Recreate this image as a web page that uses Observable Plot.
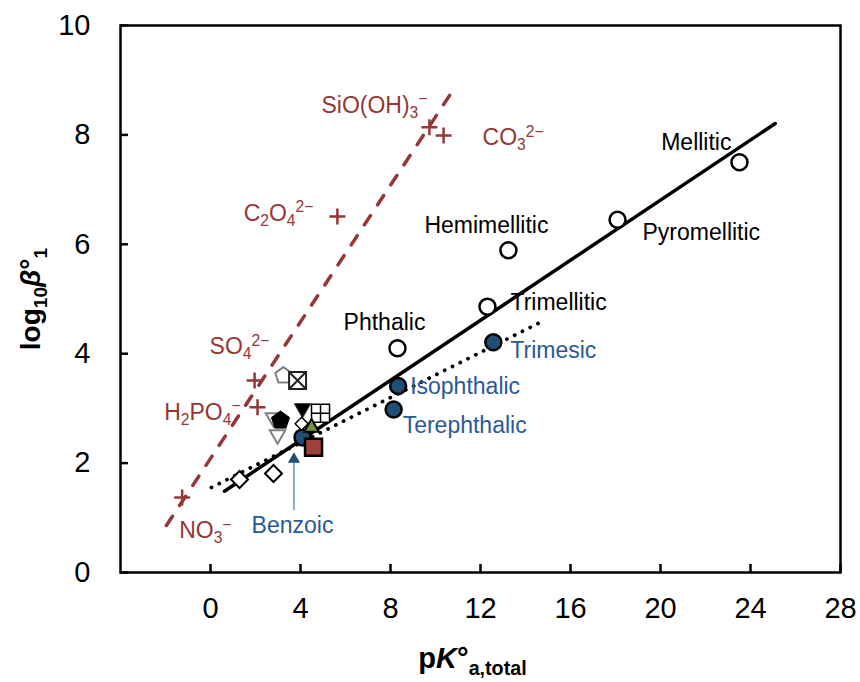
<!DOCTYPE html>
<html><head><meta charset="utf-8">
<script src="https://cdn.jsdelivr.net/npm/d3@7"></script>
<script src="https://cdn.jsdelivr.net/npm/@observablehq/plot@0.6"></script>
<style>
html,body{margin:0;padding:0;background:#fff;}
#chart{width:860px;height:682px;}
</style></head>
<body><div id="chart"></div>
<script>
// ---------- DATA ----------
// Inorganic anions (red crosses, dashed fit)
const inorgLabels = ["NO_{3}^{−}", "H_{2}PO_{4}^{−}", "SO_{4}^{2−}", "C_{2}O_{4}^{2−}", "SiO(OH)_{3}^{−}", "CO_{3}^{2−}"];
const inorgPKa   = [-1.26, 2.09, 1.96, 5.64, 9.73, 10.36];
const inorgLogB  = [1.37, 3.02, 3.51, 6.51, 8.14, 7.99];

// Aromatic polycarboxylic acids (open circles)
const polyLabels = ["Phthalic", "Trimellitic", "Hemimellitic", "Pyromellitic", "Mellitic"];
const polyPKa    = [8.31, 12.31, 13.24, 18.09, 23.51];
const polyLogB   = [4.10, 4.86, 5.89, 6.45, 7.50];

// Benzoic / isophthalic / terephthalic / trimesic (blue circles)
const blueLabels = ["Benzoic", "Isophthalic", "Terephthalic", "Trimesic"];
const bluePKa    = [4.09, 8.34, 8.14, 12.57];
const blueLogB   = [2.47, 3.41, 2.98, 4.21];

// Other (unlabelled) ligands
const otherKinds = ["triDownOpen", "triDownOpen", "pentagonOpen", "squareX", "pentagon", "triDown", "squarePlus", "diamondSmall", "triangle", "square", "diamond", "diamond"];
const otherPKa   = [2.80, 2.98, 3.24, 3.87, 3.11, 4.09, 4.89, 4.05, 4.49, 4.58, 1.29, 2.80];
const otherLogB  = [2.83, 2.52, 3.60, 3.51, 2.78, 3.00, 2.91, 2.72, 2.65, 2.29, 1.70, 1.81];

// Fitted lines: inorganic (dashed), polycarboxylic (solid), isomers (dotted)
const fitSlope     = [0.6246, 0.2746, 0.2065];
const fitIntercept = [2.084, 1.316, 1.546];
const fitStart     = [-1.96, 0.62, 0.04];
const fitEnd       = [10.8, 25.1, 14.76];

// Axis ticks
const xTicks = [0, 4, 8, 12, 16, 20, 24, 28];
const yTicks = [0, 2, 4, 6, 8, 10];

// ---------- STYLE / LAYOUT ----------
const RED = "#953735", BLUE = "#1F4E79", BLUETXT = "#2A5A95", GREEN = "#77933C", REDFILL = "#A0403C";
const inorgPos = [[-3,33,"start"],[-17,5,"end"],[-45,-34,"start"],[-24,-3,"end"],[-2,-22,"end"],[39,2,"start"]];
const polyPos  = [[-13,-26,"middle"],[23,-4,"start"],[-22,-25,"middle"],[25,13,"start"],[-8,-20,"end"]];
const bluePos  = [[-10,88,"middle"],[12,1,"start"],[9,16,"start"],[17,8,"start"]];
const benzoicArrow = {dx: -0.38, yFrom: 1.14, yTo: 2.02, yHead: 2.07};

// custom symbols (R = radius)
const R = s => Math.sqrt(s / Math.PI);
function poly(n, rot) {
  return {draw(ctx, size) {
    const r = R(size);
    for (let k = 0; k < n; k++) {
      const a = rot + 2 * Math.PI * k / n;
      const x = r * Math.sin(a), y = -r * Math.cos(a);
      if (k) ctx.lineTo(x, y); else ctx.moveTo(x, y);
    }
    ctx.closePath();
  }};
}
function sq(ctx, r) { ctx.moveTo(-r,-r); ctx.lineTo(r,-r); ctx.lineTo(r,r); ctx.lineTo(-r,r); ctx.closePath(); }
const SYM = {
  plus: {draw(ctx, s){ const r = R(s); ctx.moveTo(-r,0); ctx.lineTo(r,0); ctx.moveTo(0,-r); ctx.lineTo(0,r); }},
  pentagon: poly(5, 0),
  triUp: poly(3, 0),
  triDown: poly(3, Math.PI),
  diamond: poly(4, 0),
  square: {draw(ctx, s){ sq(ctx, R(s)); }},
  squareX: {draw(ctx, s){ const r = R(s); sq(ctx, r); ctx.moveTo(-r,-r); ctx.lineTo(r,r); ctx.moveTo(r,-r); ctx.lineTo(-r,r); }},
  squarePlus: {draw(ctx, s){ const r = R(s); sq(ctx, r); ctx.moveTo(-r,0); ctx.lineTo(r,0); ctx.moveTo(0,-r); ctx.lineTo(0,r); }}
};
const kindStyle = {
  triDownOpen:  {symbol: SYM.triDown, r: 9, fill: "#fff", stroke: "#808080", strokeWidth: 2},
  pentagonOpen: {symbol: SYM.pentagon, r: 8.5, fill: "#fff", stroke: "#808080", strokeWidth: 2},
  squareX:      {symbol: SYM.squareX, r: 8.5, fill: "#fff", stroke: "#222", strokeWidth: 2},
  pentagon:     {symbol: SYM.pentagon, r: 9.5, fill: "#000", stroke: "#000", strokeWidth: 1},
  triDown:      {symbol: SYM.triDown, r: 9.5, fill: "#000", stroke: "#333", strokeWidth: 1},
  squarePlus:   {symbol: SYM.squarePlus, r: 9, fill: "#fff", stroke: "#000", strokeWidth: 1.5},
  diamondSmall: {symbol: SYM.diamond, r: 6.5, fill: "#fff", stroke: "#000", strokeWidth: 1.5},
  triangle:     {symbol: SYM.triUp, r: 8.5, fill: GREEN, stroke: "#000", strokeWidth: 2},
  square:       {symbol: SYM.square, r: 8.5, fill: REDFILL, stroke: "#000", strokeWidth: 2.5},
  diamond:      {symbol: SYM.diamond, r: 8.5, fill: "#fff", stroke: "#000", strokeWidth: 2}
};

const fitLine = i => [fitStart[i], fitEnd[i]].map(x => ({x, y: fitIntercept[i] + fitSlope[i] * x}));
const idx = a => a.map((_, i) => i);
const LABEL_FS = 23;

const labelMarks = (labels, xs, ys, pos, color) => labels.map((t, i) =>
  Plot.text([i], {x: j => xs[j], y: j => ys[j], text: j => labels[j], dx: pos[i][0], dy: pos[i][1],
    textAnchor: pos[i][2], lineAnchor: "middle", fill: color, fontSize: LABEL_FS}));

const bi = blueLabels.indexOf("Benzoic");

const plot = Plot.plot({
  width: 860, height: 682,
  marginLeft: 120, marginRight: 20, marginTop: 25, marginBottom: 110,
  x: {domain: [-4, 28], label: null},
  y: {domain: [0, 10], label: null},
  style: {fontFamily: "'Liberation Sans', Arial, sans-serif", background: "#fff", color: "#000"},
  marks: [
    // axes: inward ticks + labels
    Plot.axisX({ticks: xTicks, tickSize: 8, dy: -8, tickFormat: () => "", strokeWidth: 2.5, label: null}),
    Plot.axisX({ticks: xTicks, tickSize: 0, tickPadding: 25, fontSize: 29, label: null}),
    Plot.axisY({ticks: yTicks, tickSize: 8, dx: 8, tickFormat: () => "", strokeWidth: 2.5, label: null}),
    Plot.axisY({ticks: yTicks, tickSize: 0, tickPadding: 30, fontSize: 29, label: null}),
    // fit lines
    Plot.line(fitLine(0), {x: "x", y: "y", stroke: RED, strokeWidth: 3.5, strokeDasharray: "11,13", strokeLinecap: "round"}),
    Plot.line(fitLine(1), {x: "x", y: "y", stroke: "#000", strokeWidth: 3.5}),
    Plot.line(fitLine(2), {x: "x", y: "y", stroke: "#000", strokeWidth: 3.8, strokeDasharray: "0.1,8.6", strokeLinecap: "round"}),
    // benzoic arrow
    Plot.link([bi], {x1: j => bluePKa[j] + benzoicArrow.dx, x2: j => bluePKa[j] + benzoicArrow.dx,
      y1: () => benzoicArrow.yFrom, y2: () => benzoicArrow.yTo, stroke: BLUETXT, strokeWidth: 1}),
    Plot.dot([bi], {x: j => bluePKa[j] + benzoicArrow.dx, y: () => benzoicArrow.yHead, symbol: SYM.triUp, r: 7, fill: BLUE, stroke: "none"}),
    // open circles
    Plot.dot(idx(polyPKa), {x: j => polyPKa[j], y: j => polyLogB[j], r: 8, fill: "#fff", stroke: "#000", strokeWidth: 2.5}),
    // blue circles
    Plot.dot(idx(bluePKa), {x: j => bluePKa[j], y: j => blueLogB[j], r: 8, fill: BLUE, stroke: "#000", strokeWidth: 2.5}),
    // other ligands
    ...otherKinds.map((k, i) => Plot.dot([i], {x: j => otherPKa[j], y: j => otherLogB[j], ...kindStyle[k]})),
    // inorganic crosses
    Plot.dot(idx(inorgPKa), {x: j => inorgPKa[j], y: j => inorgLogB[j], symbol: SYM.plus, r: 8, stroke: RED, strokeWidth: 2.5, fill: "none"}),
    // labels
    ...labelMarks(inorgLabels, inorgPKa, inorgLogB, inorgPos, RED),
    ...labelMarks(polyLabels, polyPKa, polyLogB, polyPos, "#000"),
    ...labelMarks(blueLabels, bluePKa, blueLogB, bluePos, BLUETXT),
    // axis titles
    Plot.text(["p~{K}°_{a,total}"], {frameAnchor: "bottom", text: d => d, dx: -8, dy: 86, textAnchor: "middle", lineAnchor: "middle", fontSize: 29, fontWeight: "bold"}),
    Plot.text(["log_{10}~{β}°_{1}"], {frameAnchor: "left", text: d => d, dx: -89, rotate: -90, textAnchor: "middle", lineAnchor: "middle", fontSize: 28, fontWeight: "bold"}),
    Plot.frame({stroke: "#000", strokeWidth: 2.5})
  ]
});

document.getElementById("chart").appendChild(plot);

// rich text: _{sub}, ^{sup}, ~{italic}
const SVGNS = "http://www.w3.org/2000/svg";
plot.querySelectorAll("text").forEach(t => {
  const s = t.textContent;
  if (!/[_^~]\{/.test(s)) return;
  const base = parseFloat(getComputedStyle(t).fontSize) || LABEL_FS;
  const re = /_\{([^}]*)\}|\^\{([^}]*)\}|~\{([^}]*)\}|([^_^~]+)/g;
  t.textContent = "";
  let cur = 0, m;
  while ((m = re.exec(s))) {
    const ts = document.createElementNS(SVGNS, "tspan");
    let target = 0, txt;
    if (m[1] !== undefined) { txt = m[1]; target = 0.24 * base; ts.setAttribute("font-size", (0.68 * base).toFixed(2)); }
    else if (m[2] !== undefined) { txt = m[2]; target = -0.36 * base; ts.setAttribute("font-size", (0.68 * base).toFixed(2)); }
    else if (m[3] !== undefined) { txt = m[3]; ts.setAttribute("font-style", "italic"); }
    else txt = m[4];
    if (target !== cur) { ts.setAttribute("dy", (target - cur).toFixed(2)); cur = target; }
    ts.textContent = txt;
    t.appendChild(ts);
  }
});
</script>
</body></html>
